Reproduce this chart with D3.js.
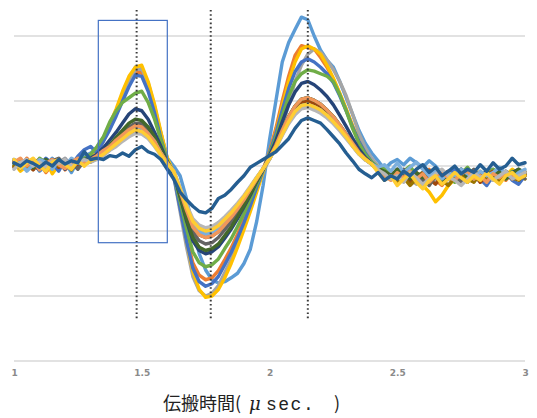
<!DOCTYPE html>
<html>
<head>
<meta charset="utf-8">
<script src="https://cdn.jsdelivr.net/npm/d3@7"></script>
<style>
  body { margin: 0; background: #fff; }
</style>
</head>
<body>
<div id="vis-container"></div>
<script>
// sample times (usec)
var times = [1, 1.025, 1.05, 1.075, 1.1, 1.125, 1.15, 1.175, 1.2, 1.225, 1.25, 1.275, 1.3, 1.325, 1.35, 1.375, 1.4, 1.425, 1.45, 1.475, 1.5, 1.525, 1.55, 1.575, 1.6, 1.625, 1.65, 1.675, 1.7, 1.725, 1.75, 1.775, 1.8, 1.825, 1.85, 1.875, 1.9, 1.925, 1.95, 1.975, 2, 2.025, 2.05, 2.075, 2.1, 2.125, 2.15, 2.175, 2.2, 2.225, 2.25, 2.275, 2.3, 2.325, 2.35, 2.375, 2.4, 2.425, 2.45, 2.475, 2.5, 2.525, 2.55, 2.575, 2.6, 2.625, 2.65, 2.675, 2.7, 2.725, 2.75, 2.775, 2.8, 2.825, 2.85, 2.875, 2.9, 2.925, 2.95, 2.975, 3];

// waveforms (one value per sample time)
var wave01 = [0.02, 0.1, -0.05, 0.06, -0.08, 0.0, 0.12, -0.04, 0.05, -0.1, 0.08, 0.15,
  0.2, 0.28, 0.4, 0.62, 0.85, 1.1, 1.33, 1.52, 1.45, 1.25, 0.9, 0.5, 0.12,
  0.0, -0.15, -0.5, -0.95, -1.35, -1.6, -1.75, -1.8, -1.78, -1.72, -1.65, -1.5, -1.28, -0.85, -0.3,
  0.4, 1.0, 1.6, 1.9, 2.1, 2.29, 2.25, 2.0, 1.78, 1.63, 1.52, 1.3, 1.05, 0.8, 0.55, 0.35, 0.2, 0.08,
  -0.05, 0.05, 0.1, 0.02, 0.12, 0.05, -0.02, 0.08, 0.0, -0.12, -0.2, -0.15, -0.25, -0.18, -0.1, -0.22, -0.15, -0.05, -0.18, -0.1, -0.2, -0.12, -0.15];
var wave02 = [0.08, -0.02, 0.12, 0.0, 0.05, -0.1, 0.02, 0.1, -0.06, 0.04, -0.02, 0.1,
  0.12, 0.25, 0.42, 0.6, 0.82, 1.05, 1.3, 1.45, 1.43, 1.2, 0.85, 0.45, 0.1,
  -0.14, -0.61, -1.09, -1.49, -1.68, -1.75, -1.72, -1.61, -1.44, -1.26, -1.05, -0.82, -0.58, -0.32, -0.05,
  0.22, 0.58, 1.0, 1.38, 1.7, 1.85, 1.82, 1.8, 1.67, 1.52, 1.33, 1.11, 0.87, 0.61, 0.37, 0.19, 0.06, -0.05,
  -0.12, -0.2, -0.08, -0.15, -0.25, -0.1, -0.18, -0.05, -0.22, -0.3, -0.15, -0.2, -0.1, -0.25, -0.12, -0.18, -0.08, -0.2, -0.15, -0.22, -0.1, -0.18, -0.12];
var wave03 = [0.0, 0.06, 0.1, -0.05, 0.08, 0.02, -0.08, 0.05, 0.12, 0.0, 0.06, 0.04,
  0.1, 0.22, 0.38, 0.58, 0.8, 1.05, 1.3, 1.48, 1.5, 1.28, 0.92, 0.5, 0.1,
  -0.16, -0.7, -1.24, -1.7, -1.92, -2.0, -1.96, -1.84, -1.64, -1.44, -1.2, -0.94, -0.66, -0.36, -0.08,
  0.1, 0.3, 0.6, 0.95, 1.3, 1.55, 1.72, 1.8, 1.75, 1.63, 1.48, 1.3, 1.08, 0.8, 0.5, 0.28, 0.12, 0.0,
  -0.1, -0.18, -0.05, -0.12, -0.2, -0.28, -0.15, -0.1, -0.25, -0.18, -0.3, -0.12, -0.2, -0.08, -0.15, -0.25, -0.1, -0.18, -0.05, -0.15, -0.2, -0.1, -0.08];
var wave04 = [0.05, -0.08, 0.0, 0.1, -0.05, 0.08, -0.12, 0.02, 0.06, -0.04, 0.1, 0.0,
  0.12, 0.2, 0.42, 0.65, 0.88, 1.15, 1.38, 1.52, 1.55, 1.3, 0.95, 0.52, 0.12,
  -0.1, -0.6, -1.15, -1.62, -1.9, -2.02, -2.0, -1.9, -1.72, -1.5, -1.25, -0.98, -0.7, -0.4, -0.1,
  0.2, 0.52, 0.92, 1.3, 1.6, 1.8, 1.85, 1.8, 1.72, 1.55, 1.35, 1.12, 0.88, 0.62, 0.38, 0.18, 0.05, -0.08,
  -0.15, -0.08, -0.2, -0.12, -0.25, -0.18, -0.3, -0.4, -0.55, -0.45, -0.3, -0.2, -0.12, -0.22, -0.15, -0.08, -0.18, -0.1, -0.25, -0.15, -0.05, -0.12, -0.2];
var wave05 = [0.1, 0.02, -0.06, 0.08, 0.0, 0.12, 0.04, -0.08, 0.1, 0.02, 0.15, 0.25,
  0.3, 0.2, 0.38, 0.56, 0.77, 1.0, 1.22, 1.4, 1.38, 1.15, 0.82, 0.42, 0.08,
  -0.15, -0.65, -1.15, -1.57, -1.78, -1.85, -1.81, -1.7, -1.52, -1.33, -1.11, -0.87, -0.61, -0.33, -0.07,
  0.2, 0.5, 0.86, 1.19, 1.45, 1.6, 1.65, 1.6, 1.52, 1.42, 1.28, 1.08, 0.85, 0.6, 0.38, 0.2, 0.06, -0.05,
  -0.2, -0.1, -0.25, -0.15, -0.08, -0.2, -0.3, -0.18, -0.1, -0.22, -0.12, -0.05, -0.18, -0.25, -0.1, -0.2, -0.3, -0.15, -0.2, -0.08, -0.22, -0.28, -0.15];
var wave06 = [0.04, 0.1, 0.0, -0.05, 0.12, 0.05, 0.0, 0.08, -0.02, 0.1, 0.05, 0.12,
  0.18, 0.3, 0.45, 0.68, 0.85, 0.98, 1.05, 1.12, 1.15, 0.98, 0.72, 0.4, 0.08,
  -0.12, -0.54, -0.96, -1.32, -1.49, -1.55, -1.52, -1.43, -1.27, -1.12, -0.93, -0.73, -0.51, -0.28, -0.06,
  0.18, 0.44, 0.77, 1.07, 1.3, 1.42, 1.48, 1.46, 1.42, 1.38, 1.3, 1.1, 0.85, 0.58, 0.35, 0.18, 0.06, -0.02,
  -0.05, -0.12, -0.2, -0.08, 0.0, -0.15, -0.1, -0.22, -0.05, -0.18, -0.1, -0.25, -0.12, -0.02, -0.15, -0.2, -0.1, -0.05, -0.12, -0.2, -0.08, -0.15, -0.1];
var wave07 = [0.06, -0.04, 0.08, 0.02, -0.06, 0.1, 0.0, 0.05, -0.05, 0.08, 0.02, 0.1,
  0.12, 0.18, 0.28, 0.4, 0.52, 0.66, 0.8, 0.88, 0.85, 0.72, 0.52, 0.3, 0.06,
  -0.11, -0.47, -0.84, -1.15, -1.3, -1.35, -1.32, -1.24, -1.11, -0.97, -0.81, -0.63, -0.45, -0.24, -0.05,
  0.16, 0.39, 0.68, 0.94, 1.14, 1.27, 1.3, 1.25, 1.17, 1.07, 0.94, 0.78, 0.61, 0.43, 0.26, 0.13, 0.04, -0.05,
  -0.1, -0.18, -0.05, -0.15, -0.2, -0.12, -0.25, -0.08, -0.15, -0.2, -0.1, -0.18, -0.05, -0.12, -0.22, -0.15, -0.08, -0.2, -0.12, -0.18, -0.1, -0.05, -0.15];
var wave08 = [-0.02, 0.08, 0.04, -0.06, 0.06, 0.0, 0.1, -0.02, 0.04, 0.08, 0.0, 0.06,
  0.08, 0.14, 0.2, 0.26, 0.36, 0.44, 0.52, 0.6, 0.56, 0.48, 0.36, 0.2, 0.05,
  -0.09, -0.39, -0.68, -0.94, -1.06, -1.1, -1.08, -1.01, -0.9, -0.79, -0.66, -0.52, -0.36, -0.2, -0.04,
  0.12, 0.3, 0.52, 0.72, 0.88, 0.98, 1.0, 0.96, 0.9, 0.82, 0.72, 0.6, 0.47, 0.33, 0.2, 0.1, 0.03, -0.06,
  -0.12, -0.2, -0.1, -0.15, -0.25, -0.18, -0.1, -0.2, -0.28, -0.15, -0.08, -0.18, -0.12, -0.2, -0.1, -0.25, -0.15, -0.08, -0.18, -0.12, -0.2, -0.1, -0.15];
var wave09 = [0.08, 0.0, 0.05, 0.1, -0.04, 0.02, 0.08, 0.12, 0.0, 0.05, -0.05, 0.08,
  0.1, 0.12, 0.22, 0.3, 0.4, 0.5, 0.6, 0.66, 0.65, 0.55, 0.4, 0.22, 0.05,
  -0.1, -0.42, -0.74, -1.02, -1.15, -1.2, -1.18, -1.1, -0.98, -0.86, -0.72, -0.56, -0.4, -0.22, -0.05,
  0.13, 0.32, 0.55, 0.76, 0.92, 1.03, 1.05, 1.01, 0.95, 0.86, 0.76, 0.63, 0.49, 0.35, 0.21, 0.11, 0.03, -0.05,
  -0.15, -0.1, -0.22, -0.05, -0.18, -0.12, -0.2, -0.3, -0.15, -0.1, -0.2, -0.12, -0.25, -0.15, -0.05, -0.18, -0.1, -0.22, -0.15, -0.08, -0.18, -0.12, -0.2];
var wave10 = [0.0, 0.1, -0.04, 0.06, 0.1, -0.02, 0.05, 0.0, 0.08, -0.06, 0.1, 0.04,
  0.06, 0.12, 0.18, 0.25, 0.32, 0.4, 0.48, 0.55, 0.52, 0.45, 0.34, 0.18, 0.04,
  -0.08, -0.35, -0.62, -0.85, -0.96, -1.0, -0.98, -0.92, -0.82, -0.72, -0.6, -0.47, -0.33, -0.18, -0.04,
  0.11, 0.29, 0.49, 0.68, 0.84, 0.93, 0.95, 0.91, 0.86, 0.78, 0.68, 0.57, 0.45, 0.31, 0.19, 0.1, 0.03, -0.08,
  -0.2, -0.12, -0.25, -0.18, -0.3, -0.2, -0.12, -0.25, -0.15, -0.22, -0.3, -0.18, -0.1, -0.2, -0.25, -0.12, -0.2, -0.15, -0.25, -0.1, -0.18, -0.22, -0.12];
var wave11 = [0.05, 0.02, 0.08, -0.03, 0.05, 0.1, 0.0, 0.06, 0.02, 0.1, 0.04, 0.08,
  0.1, 0.15, 0.22, 0.32, 0.44, 0.55, 0.66, 0.72, 0.7, 0.6, 0.45, 0.25, 0.06,
  -0.1, -0.46, -0.81, -1.1, -1.25, -1.3, -1.27, -1.2, -1.07, -0.94, -0.78, -0.61, -0.43, -0.23, -0.05,
  0.13, 0.32, 0.55, 0.76, 0.92, 1.03, 1.05, 1.01, 0.95, 0.86, 0.76, 0.63, 0.49, 0.35, 0.21, 0.11, 0.03, -0.04,
  -0.08, -0.15, -0.05, -0.12, -0.2, -0.1, -0.18, -0.08, -0.15, -0.22, -0.1, -0.15, -0.05, -0.18, -0.12, -0.2, -0.1, -0.15, -0.08, -0.2, -0.12, -0.05, -0.1];
var wave12 = [0.1, 0.04, -0.08, 0.02, 0.1, 0.06, -0.05, 0.08, 0.0, 0.12, 0.06, 0.02,
  0.08, 0.14, 0.2, 0.28, 0.36, 0.46, 0.55, 0.6, 0.58, 0.5, 0.38, 0.2, 0.04,
  -0.08, -0.37, -0.65, -0.89, -1.01, -1.05, -1.03, -0.97, -0.86, -0.76, -0.63, -0.49, -0.35, -0.19, -0.04,
  0.11, 0.29, 0.49, 0.68, 0.84, 0.93, 0.95, 0.91, 0.86, 0.78, 0.68, 0.57, 0.45, 0.31, 0.19, 0.1, 0.03, -0.02,
  0.02, -0.08, 0.05, -0.1, -0.02, 0.06, -0.05, -0.15, -0.08, -0.2, -0.1, -0.15, -0.05, -0.12, -0.2, -0.08, -0.15, -0.1, -0.02, -0.12, -0.18, -0.1, -0.05];
var wave13 = [0.06, 0.12, 0.0, 0.08, -0.06, 0.04, 0.1, 0.02, -0.04, 0.06, 0.12, 0.05,
  0.1, 0.16, 0.24, 0.3, 0.4, 0.48, 0.56, 0.62, 0.6, 0.5, 0.38, 0.2, 0.05,
  -0.09, -0.39, -0.68, -0.94, -1.06, -1.1, -1.08, -1.01, -0.9, -0.79, -0.66, -0.52, -0.36, -0.2, -0.04,
  0.13, 0.32, 0.55, 0.76, 0.92, 1.03, 1.05, 1.01, 0.95, 0.86, 0.76, 0.63, 0.49, 0.35, 0.21, 0.11, 0.03, -0.06,
  -0.15, -0.22, -0.1, -0.18, -0.08, -0.2, -0.12, -0.25, -0.15, -0.1, -0.18, -0.22, -0.12, -0.08, -0.2, -0.15, -0.25, -0.12, -0.18, -0.1, -0.15, -0.2, -0.1];
var wave14 = [-0.05, 0.05, 0.1, 0.0, 0.06, -0.02, 0.08, 0.04, 0.1, 0.0, 0.05, 0.1,
  0.06, 0.1, 0.16, 0.24, 0.3, 0.38, 0.45, 0.5, 0.49, 0.42, 0.3, 0.16, 0.03,
  -0.08, -0.33, -0.59, -0.81, -0.91, -0.95, -0.93, -0.87, -0.78, -0.68, -0.57, -0.45, -0.31, -0.17, -0.04,
  0.11, 0.27, 0.47, 0.65, 0.79, 0.88, 0.9, 0.86, 0.81, 0.74, 0.65, 0.54, 0.42, 0.3, 0.18, 0.09, 0.03, -0.06,
  -0.12, -0.2, -0.15, -0.25, -0.1, -0.18, -0.28, -0.2, -0.12, -0.05, -0.15, -0.22, -0.3, -0.2, -0.1, -0.18, -0.12, -0.22, -0.15, -0.08, -0.2, -0.15, -0.1];
var wave15 = [0.1, -0.04, 0.05, 0.12, 0.0, -0.08, 0.06, 0.1, 0.02, -0.05, 0.08, 0.0,
  0.08, 0.12, 0.18, 0.26, 0.34, 0.42, 0.5, 0.56, 0.53, 0.45, 0.32, 0.17, 0.03,
  -0.08, -0.35, -0.62, -0.85, -0.96, -1.0, -0.98, -0.92, -0.82, -0.72, -0.6, -0.47, -0.33, -0.18, -0.04,
  0.11, 0.29, 0.49, 0.68, 0.84, 0.93, 0.95, 0.91, 0.86, 0.78, 0.68, 0.57, 0.45, 0.31, 0.19, 0.1, 0.03, -0.1,
  -0.22, -0.15, -0.3, -0.2, -0.12, -0.25, -0.35, -0.22, -0.15, -0.28, -0.2, -0.1, -0.18, -0.25, -0.15, -0.22, -0.1, -0.2, -0.28, -0.15, -0.1, -0.2, -0.15];
var wave16 = [0.05, 0.0, 0.08, 0.04, -0.02, 0.06, 0.0, 0.1, 0.03, 0.08, 0.05, 0.22,
  0.1, 0.12, 0.1, 0.16, 0.14, 0.2, 0.15, 0.25, 0.3, 0.22, 0.18, 0.1, -0.05,
  -0.2, -0.4, -0.52, -0.62, -0.7, -0.72, -0.65, -0.5, -0.45, -0.36, -0.25, -0.15, -0.02, 0.04, 0.1,
  0.16, 0.22, 0.32, 0.42, 0.58, 0.7, 0.74, 0.7, 0.66, 0.56, 0.45, 0.34, 0.2, 0.08, -0.05, -0.12, -0.18, -0.1,
  -0.22, -0.15, -0.2, -0.08, -0.15, -0.05, 0.02, -0.1, -0.02, -0.15, -0.08, 0.0, -0.12, -0.05, -0.1, 0.02, -0.08, 0.05, -0.05, 0.0, 0.12, 0.02, 0.05];

var waves = [wave01, wave02, wave03, wave04, wave05, wave06, wave07, wave08,
  wave09, wave10, wave11, wave12, wave13, wave14, wave15, wave16];
var waveColors = ["#5B9BD5", "#ED7D31", "#A5A5A5", "#FFC000", "#4472C4", "#70AD47", "#264478", "#9E480E",
  "#636363", "#997300", "#43682B", "#7CAFDD", "#F1975A", "#B7B7B7", "#FFCD33", "#255E91"];

var xTicks = [1, 1.5, 2, 2.5, 3];
var gridValues = [-3, -2, -1, 0, 1, 2];
var markerTimes = [1.48, 1.77, 2.15];
var windowBox = { x0: 1.33, x1: 1.6, y0: 2.24, y1: -1.18 };

// Set the dimensions of the chart
var width = 537, height = 418;
var svg = d3.select("#vis-container")
  .append("svg")
  .attr("width", width)
  .attr("height", height)
  .style("background", "#fff");

// Scale functions
var xScale = d3.scaleLinear().domain([1, 3]).range([14, 525]);
var yScale = d3.scaleLinear().domain([-3, 2]).range([361, 36]);

// horizontal gridlines
svg.append("g")
  .selectAll("line")
  .data(gridValues)
  .join("line")
  .attr("x1", xScale(1))
  .attr("x2", xScale(3))
  .attr("y1", function (d) { return yScale(d); })
  .attr("y2", function (d) { return yScale(d); })
  .attr("stroke", "#d9d9d9")
  .attr("stroke-width", 1.3);

// x tick labels
var xAxis = svg.append("g")
  .attr("transform", "translate(0," + 373 + ")")
  .call(d3.axisBottom(xScale).tickValues(xTicks).tickSize(0).tickPadding(0).tickFormat(d3.format("")));
xAxis.select(".domain").remove();
xAxis.selectAll("text")
  .attr("dy", "0.35em")
  .style("font-family", "DejaVu Sans, sans-serif")
  .style("font-size", "9px")
  .style("font-weight", "bold")
  .attr("fill", "#8a8a8a");

// waveforms
var line = d3.line()
  .x(function (d, i) { return xScale(times[i]); })
  .y(function (d) { return yScale(d); });

svg.append("g")
  .selectAll("path")
  .data(waves)
  .join("path")
  .attr("fill", "none")
  .attr("stroke", function (d, i) { return waveColors[i]; })
  .attr("stroke-width", 3.4)
  .attr("stroke-linejoin", "round")
  .attr("stroke-linecap", "round")
  .attr("d", line);

// dotted markers
svg.append("g")
  .selectAll("line")
  .data(markerTimes)
  .join("line")
  .attr("x1", function (d) { return xScale(d); })
  .attr("x2", function (d) { return xScale(d); })
  .attr("y1", yScale(2.4))
  .attr("y2", yScale(-2.37))
  .attr("stroke", "#3a3a3a")
  .attr("stroke-width", 2)
  .attr("stroke-dasharray", "1.6,2.6");

// window rectangle
svg.append("rect")
  .attr("x", xScale(windowBox.x0))
  .attr("y", yScale(windowBox.y0))
  .attr("width", xScale(windowBox.x1) - xScale(windowBox.x0))
  .attr("height", yScale(windowBox.y1) - yScale(windowBox.y0))
  .attr("fill", "none")
  .attr("stroke", "#4472C4")
  .attr("stroke-width", 1.2);

// x-axis title, pieces placed to match the original spacing
var title = svg.append("text")
  .attr("y", 410)
  .style("font-size", "18px")
  .attr("fill", "#222");
title.append("tspan").attr("x", 163).style("font-family", "Noto Sans CJK JP").text("伝搬時間(");
title.append("tspan").attr("x", 249).style("font-family", "DejaVu Serif").style("font-style", "italic").text("μ");
title.append("tspan").attr("x", 266).style("font-family", "Liberation Mono").style("letter-spacing", "1.5px").text("sec.");
title.append("tspan").attr("x", 334).style("font-family", "Noto Sans CJK JP").text(")");
</script>
</body>
</html>
